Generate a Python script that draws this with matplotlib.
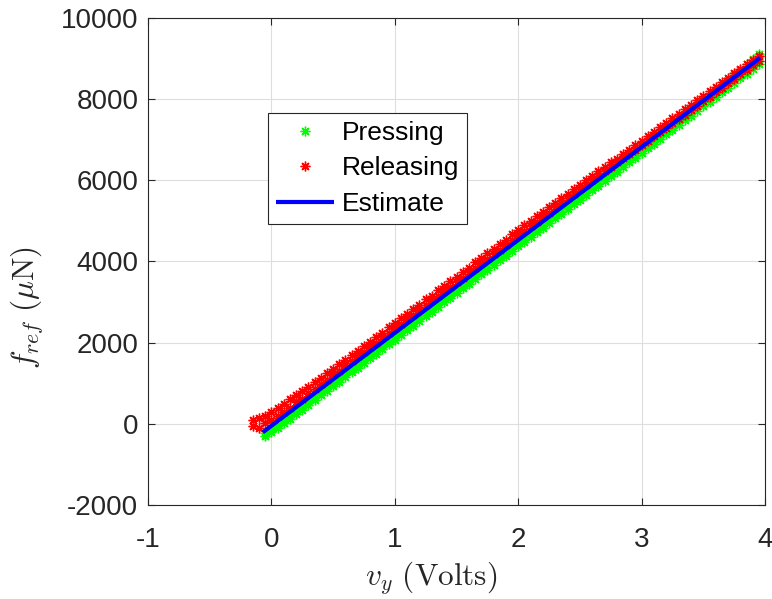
import matplotlib
matplotlib.use("Agg")
import matplotlib.pyplot as plt

plt.rcParams['font.family'] = ['Liberation Sans', 'DejaVu Sans']
plt.rcParams['mathtext.fontset'] = 'cm'

# Releasing samples (two traces of the band)
rel_v = [-0.15, -0.10, -0.05, 0.00, 0.05, 0.10, 0.15, 0.20, 0.25, 0.30,
         0.35, 0.40, 0.45, 0.50, 0.55, 0.60, 0.65, 0.70, 0.75, 0.80,
         0.85, 0.90, 0.95, 1.00, 1.05, 1.10, 1.15, 1.20, 1.25, 1.30,
         1.35, 1.40, 1.45, 1.50, 1.55, 1.60, 1.65, 1.70, 1.75, 1.80,
         1.85, 1.90, 1.95, 2.00, 2.05, 2.10, 2.15, 2.20, 2.25, 2.30,
         2.35, 2.40, 2.45, 2.50, 2.55, 2.60, 2.65, 2.70, 2.75, 2.80,
         2.85, 2.90, 2.95, 3.00, 3.05, 3.10, 3.15, 3.20, 3.25, 3.30,
         3.35, 3.40, 3.45, 3.50, 3.55, 3.60, 3.65, 3.70, 3.75, 3.80,
         3.85, 3.90, 3.95]
rel_f_a = [-60, -100, 10, 90, 200, 300, 400, 530, 620, 760,
           850, 990, 1080, 1215, 1310, 1440, 1540, 1670, 1770, 1900,
           2000, 2130, 2225, 2355, 2460, 2590, 2685, 2815, 2915, 3045,
           3145, 3270, 3375, 3505, 3600, 3730, 3830, 3960, 4060, 4190,
           4290, 4415, 4520, 4645, 4750, 4875, 4975, 5100, 5205, 5330,
           5430, 5555, 5655, 5780, 5880, 6000, 6100, 6225, 6320, 6440,
           6540, 6660, 6755, 6875, 6970, 7090, 7185, 7300, 7400, 7515,
           7615, 7730, 7830, 7950, 8050, 8170, 8270, 8390, 8490, 8610,
           8720, 8830, 8940]
rel_f_b = [90, 140, 200, 290, 400, 500, 600, 700, 820, 910,
           1030, 1130, 1250, 1345, 1470, 1570, 1695, 1790, 1920, 2020,
           2150, 2245, 2375, 2475, 2605, 2700, 2835, 2930, 3065, 3160,
           3295, 3390, 3520, 3620, 3750, 3845, 3980, 4075, 4210, 4305,
           4440, 4535, 4665, 4765, 4895, 4990, 5120, 5215, 5345, 5440,
           5565, 5660, 5785, 5880, 6005, 6100, 6220, 6320, 6440, 6535,
           6660, 6755, 6875, 6975, 7095, 7190, 7310, 7410, 7530, 7630,
           7750, 7850, 7970, 8070, 8190, 8295, 8410, 8515, 8635, 8740,
           8860, 8965, 9075]

# Pressing samples (two traces of the band)
pre_v = rel_v[2:]
pre_f_a = [-230, -130, -20, 100, 210, 330, 440, 555,
           665, 790, 900, 1015, 1125, 1245, 1355, 1470, 1585, 1700,
           1815, 1930, 2040, 2160, 2270, 2390, 2500, 2615, 2730, 2845,
           2960, 3075, 3190, 3305, 3420, 3535, 3645, 3765, 3875, 3995,
           4105, 4220, 4335, 4450, 4565, 4680, 4795, 4910, 5020, 5140,
           5250, 5365, 5480, 5595, 5710, 5825, 5940, 6055, 6170, 6285,
           6400, 6515, 6630, 6745, 6860, 6975, 7090, 7205, 7320, 7440,
           7560, 7690, 7820, 7950, 8080, 8215, 8340, 8470, 8600, 8730,
           8860, 8990, 9110]
pre_f_b = [-300, -210, -110, 10, 120, 240, 350, 470,
           580, 700, 805, 925, 1035, 1155, 1265, 1385, 1495, 1615,
           1725, 1845, 1955, 2075, 2185, 2305, 2415, 2535, 2645, 2765,
           2875, 2995, 3105, 3225, 3335, 3455, 3565, 3685, 3795, 3915,
           4025, 4145, 4255, 4375, 4485, 4605, 4715, 4835, 4945, 5065,
           5175, 5295, 5405, 5525, 5635, 5755, 5865, 5985, 6095, 6215,
           6325, 6445, 6555, 6675, 6785, 6905, 7015, 7135, 7245, 7365,
           7475, 7595, 7705, 7825, 7935, 8055, 8165, 8285, 8395, 8515,
           8625, 8745, 8855]

# Linear estimate endpoints
est_v = [-0.07, 3.96]
est_f = [-210, 9018]

xticks = [-1, 0, 1, 2, 3, 4]
yticks = [-2000, 0, 2000, 4000, 6000, 8000, 10000]

fig = plt.figure(figsize=(7.72, 5.99), dpi=100)
ax = fig.add_axes([0.1917, 0.157, 0.7993, 0.813])

mk = dict(marker=(8, 2, 0), markersize=7, markeredgewidth=1.0, linestyle='none')
ax.plot(pre_v + pre_v, pre_f_a + pre_f_b, color=(0, 1, 0), label='Pressing', **mk)
ax.plot(rel_v + rel_v, rel_f_a + rel_f_b, color=(1, 0, 0), label='Releasing', **mk)
ax.plot(est_v, est_f, color=(0, 0, 1), linewidth=3, label='Estimate',
        solid_capstyle='butt')

ax.set_xlim(-1, 4)
ax.set_ylim(-2000, 10000)
ax.set_xticks(xticks)
ax.set_yticks(yticks)
ax.set_xticklabels([str(t) for t in xticks])
ax.set_yticklabels([str(t) for t in yticks])

axcol = (0.15, 0.15, 0.15)
ax.grid(True, color=(0.87, 0.87, 0.87), linewidth=0.8)
ax.set_axisbelow(True)
for s in ax.spines.values():
    s.set_color(axcol)
    s.set_linewidth(0.8)
ax.tick_params(direction='in', top=True, right=True, length=5, width=0.8,
               colors=axcol, labelsize=20)
ax.tick_params(axis='y', pad=7)
ax.tick_params(axis='x', pad=16)

ax.set_xlabel(r'$v_y\ \mathrm{(Volts)}$', fontsize=22.5, color=axcol)
ax.xaxis.set_label_coords(0.459, -0.112)
ax.set_ylabel(r'$f_{ref}\ (\mu\mathrm{N})$', fontsize=22.5, color=axcol)
ax.yaxis.set_label_coords(-0.166, 0.405)

leg = ax.legend(loc='upper left', bbox_to_anchor=(0.194, 0.805), borderaxespad=0,
                fontsize=19, handlelength=2.2, handletextpad=0.3,
                labelspacing=0.44, borderpad=0.3, fancybox=False,
                edgecolor=axcol, framealpha=1, numpoints=1)
leg.get_frame().set_linewidth(0.8)

fig.savefig('out.png', dpi=100, facecolor='white')
